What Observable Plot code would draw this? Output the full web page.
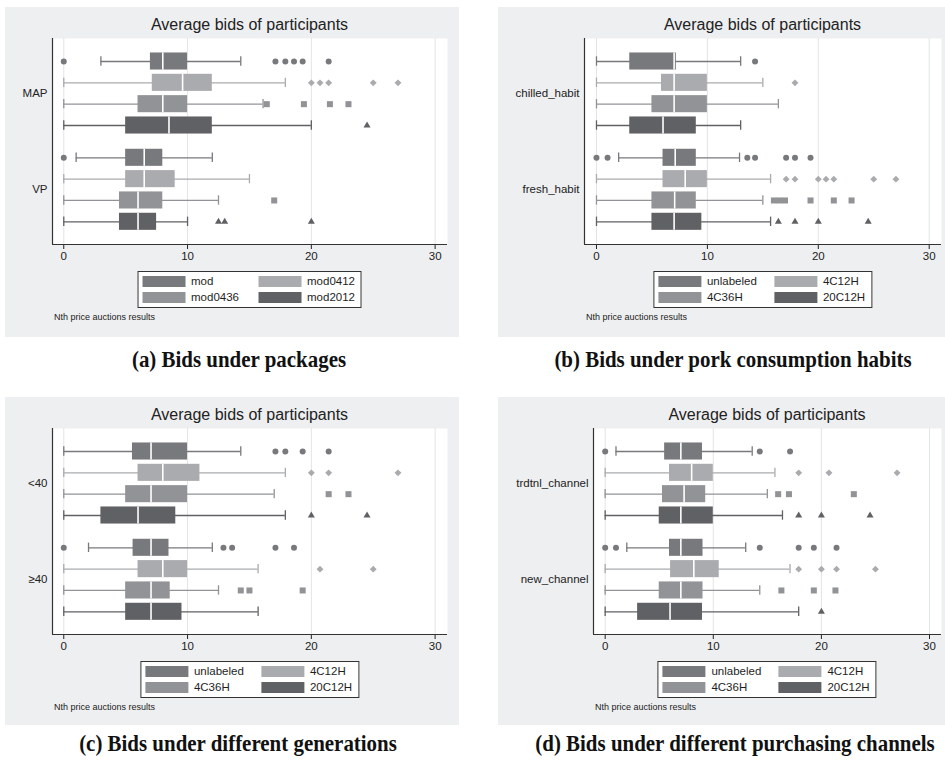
<!DOCTYPE html>
<html>
<head>
<meta charset="utf-8">
<script src="https://cdn.jsdelivr.net/npm/d3@7"></script>
<script src="https://cdn.jsdelivr.net/npm/@observablehq/plot@0.6"></script>
<style>
  body { margin: 0; background: #ffffff; }
  #root { position: relative; width: 945px; height: 766px; overflow: hidden; font-family: "Liberation Sans", Arial, sans-serif; color: #1e1e1e; }
  .panel { position: absolute; background: #eeeff1; }
  .panel svg { position: absolute; left: 0; top: 0; background: transparent; }
  .ptitle { position: absolute; font-size: 16px; white-space: nowrap; transform: translate(-50%, -50%); color: #222; }
  .legend { position: absolute; transform: translateX(-50%); background: #fff; border: 1px solid #333;
            display: grid; grid-template-columns: 43px 61px 43px auto; column-gap: 6px; row-gap: 5px;
            padding: 4px 6px 4px 4px; font-size: 11.5px; line-height: 11px; align-items: center; white-space: nowrap; }
  .legend .sw { width: 43px; height: 11px; }
  .note { position: absolute; font-size: 9px; white-space: nowrap; transform: translateY(-50%); color: #222; }
  .sub { position: absolute; font-family: "Liberation Serif", "Times New Roman", serif; font-weight: bold; font-size: 22.5px;
         white-space: nowrap; transform: translate(-50%, -50%) scale(0.93, 1); color: #111; }
</style>
</head>
<body>
<div id="root"></div>
<script>
// ---------- data ----------
const seriesPackages = ["mod", "mod0412", "mod0436", "mod2012"];
const seriesLabels = ["unlabeled", "4C12H", "4C36H", "20C12H"];
const seriesColors = ["#78797d", "#aaabae", "#929397", "#606164"];
const xTicks = [0, 10, 20, 30];

// (a) packages
const groupsA = ["MAP", "VP"];
const loA  = [3, 0, 0, 0, 1, 0, 0, 0];
const q1A  = [7, 7.15, 6, 5, 5, 5, 4.5, 4.5];
const medA = [8, 9.6, 8, 8.5, 6.5, 6.5, 6, 6];
const q3A  = [10, 12, 10, 12, 8, 9, 8, 7.5];
const hiA  = [14.3, 17.9, 16.1, 20, 12, 15, 12.5, 10];
const outA = [[0, 17.1, 17.9, 18.6, 19.3, 21.4], [20, 20.7, 21.4, 25, 27], [16.4, 19.4, 21.5, 23], [24.5],
              [0], [], [17], [12.5, 13, 20]];

// (b) pork consumption habits
const groupsB = ["chilled_habit", "fresh_habit"];
const loB  = [0, 0, 0, 0, 2, 0, 0, 0];
const q1B  = [3, 5.86, 5, 3, 6, 6, 5, 5];
const medB = [7, 7, 7, 6, 7.1, 8, 7.05, 7];
const q3B  = [7.2, 10, 10, 9, 9, 10, 9, 9.5];
const hiB  = [13, 15, 16.4, 13, 12.9, 15.7, 15, 15.7];
const outB = [[14.3], [17.9], [], [],
              [0, 1, 13.6, 14.3, 17.1, 17.9, 19.3], [17.1, 17.9, 20, 20.7, 21.4, 25, 27], [16, 16.5, 17, 19.3, 21.4, 23], [16.4, 17.9, 20, 24.5]];

// (c) generations
const groupsC = ["<40", "≥40"];
const loC  = [0, 0, 0, 0, 2, 0, 0, 0];
const q1C  = [5.55, 6, 5, 3, 5.6, 6, 5, 5];
const medC = [7.05, 8, 7.05, 6, 7.05, 8, 7.05, 7.05];
const q3C  = [10, 11, 10, 9.05, 8.5, 10, 8.6, 9.55];
const hiC  = [14.3, 17.9, 17, 17.9, 12, 15.7, 12.5, 15.7];
const outC = [[17.1, 17.9, 19.3, 21.4], [20, 21.4, 27], [21.4, 23], [20, 24.5],
              [0, 12.9, 13.6, 17.1, 18.6], [20.7, 25], [14.3, 15, 19.3], []];

// (d) purchasing channels
const groupsD = ["trdtnl_channel", "new_channel"];
const loD  = [1, 0, 0, 0, 2, 0, 0, 0];
const q1D  = [5.5, 5.95, 5.3, 5, 5.95, 6.05, 5, 3];
const medD = [7, 8, 7.3, 7, 7, 8.2, 7, 6];
const q3D  = [9, 10, 9.3, 10, 9.05, 10.55, 9.05, 9];
const hiD  = [13.6, 15.7, 15, 16.4, 13, 17.1, 14.3, 17.9];
const outD = [[0, 14.3, 17.1], [17.9, 20.7, 27], [16, 17, 23], [17.9, 20, 24.5],
              [0, 1, 14.3, 17.9, 19.3, 21.4], [17.9, 20, 21.4, 25], [16.3, 19.3, 21.3], [20]];

const chartTitle = "Average bids of participants";
const noteText = "Nth price auctions results";

// ---------- layout constants ----------
const GROUP_STEP = 4.514;   // rows per group incl. gap
const BOX_HALF = 0.4;
const CAP_HALF = 0.22;
const Y_DOMAIN = [-1.078, 8.578];
const symbols = ["circle", "diamond2", "square", "triangle"];
const symR = [3, 3.1, 3.4, 2.6];

const root = document.getElementById("root");

function panel(cfg) {
  const {left, top, w, h, mL, mR, xDomain, groups, names, lo, q1, med, q3, hi, out, sub, subX, subY} = cfg;
  const mT = 31, mB = 28, svgH = 265;
  const div = document.createElement("div");
  div.className = "panel";
  Object.assign(div.style, {left: left + "px", top: top + "px", width: w + "px", height: h + "px"});
  root.appendChild(div);

  const rows = lo.map((_, i) => {
    const g = Math.floor(i / 4), s = i % 4;
    return {g, s, pos: g * GROUP_STEP + s, lo: lo[i], q1: q1[i], med: med[i], q3: q3[i], hi: hi[i]};
  });
  const outs = rows.flatMap((r, i) => out[i].map(v => ({s: r.s, pos: r.pos, v})));
  const groupCenters = groups.map((_, g) => g * GROUP_STEP + 1.5);

  const marks = [
    Plot.frame({fill: "white", stroke: "none"}),
    Plot.ruleX(xTicks, {stroke: "#e3e4e6", strokeWidth: 1})
  ];
  for (let s = 0; s < 4; s++) {
    const rs = rows.filter(r => r.s === s);
    const os = outs.filter(o => o.s === s);
    const col = seriesColors[s];
    marks.push(
      Plot.ruleY(rs, {y: "pos", x1: "lo", x2: "hi", stroke: col, strokeWidth: 1.3}),
      Plot.ruleX(rs, {x: "lo", y1: d => d.pos - CAP_HALF, y2: d => d.pos + CAP_HALF, stroke: col, strokeWidth: 1.3}),
      Plot.ruleX(rs, {x: "hi", y1: d => d.pos - CAP_HALF, y2: d => d.pos + CAP_HALF, stroke: col, strokeWidth: 1.3}),
      Plot.rect(rs, {x1: "q1", x2: "q3", y1: d => d.pos - BOX_HALF, y2: d => d.pos + BOX_HALF, fill: col}),
      Plot.ruleX(rs, {x: "med", y1: d => d.pos - BOX_HALF, y2: d => d.pos + BOX_HALF, stroke: "white", strokeWidth: 1.6}),
      Plot.dot(os, {x: "v", y: "pos", symbol: () => symbols[s], fill: col, stroke: "none", r: symR[s]})
    );
  }
  marks.push(
    Plot.ruleX([xDomain[0]], {stroke: "#333", strokeWidth: 1.2}),
    Plot.ruleY([Y_DOMAIN[1]], {stroke: "#333", strokeWidth: 1.2})
  );

  const svg = Plot.plot({
    width: w, height: svgH,
    marginLeft: mL, marginRight: mR, marginTop: mT, marginBottom: mB,
    style: {background: "transparent", fontFamily: "Liberation Sans, Arial, sans-serif", fontSize: "11.5px", color: "#222", overflow: "visible"},
    x: {domain: xDomain, ticks: xTicks, tickSize: 5, tickPadding: 2, label: null},
    y: {domain: Y_DOMAIN, reverse: true, ticks: groupCenters,
        tickFormat: d => groups[Math.round((d - 1.5) / GROUP_STEP)], tickSize: 0, tickPadding: 5, label: null},
    symbol: {type: "identity"},
    marks
  });
  div.appendChild(svg);

  const plotCx = mL + (w - mL - mR) / 2;
  const t = document.createElement("div");
  t.className = "ptitle";
  t.textContent = chartTitle;
  Object.assign(t.style, {left: plotCx + "px", top: "18px"});
  div.appendChild(t);

  const lg = document.createElement("div");
  lg.className = "legend";
  Object.assign(lg.style, {left: plotCx + "px", top: "263.5px"});
  names.forEach((n, s) => {
    const sw = document.createElement("div");
    sw.className = "sw";
    sw.style.background = seriesColors[s];
    const tx = document.createElement("div");
    tx.textContent = n;
    lg.appendChild(sw); lg.appendChild(tx);
  });
  div.appendChild(lg);

  const nt = document.createElement("div");
  nt.className = "note";
  nt.textContent = noteText;
  Object.assign(nt.style, {left: (mL + 2) + "px", top: "310px"});
  div.appendChild(nt);

  const sc = document.createElement("div");
  sc.className = "sub";
  sc.textContent = sub;
  Object.assign(sc.style, {left: subX + "px", top: subY + "px"});
  root.appendChild(sc);
}

panel({left: 5, top: 7, w: 454, h: 330, mL: 47, mR: 12, xDomain: [-0.91, 31.0],
       groups: groupsA, names: seriesPackages, lo: loA, q1: q1A, med: medA, q3: q3A, hi: hiA, out: outA,
       sub: "(a) Bids under packages", subX: 239, subY: 360});
panel({left: 498, top: 7, w: 447, h: 330, mL: 86, mR: 4, xDomain: [-1.08, 31.11],
       groups: groupsB, names: seriesLabels, lo: loB, q1: q1B, med: medB, q3: q3B, hi: hiB, out: outB,
       sub: "(b) Bids under pork consumption habits", subX: 733, subY: 360});
panel({left: 5, top: 397, w: 454, h: 328, mL: 47, mR: 12, xDomain: [-0.91, 31.0],
       groups: groupsC, names: seriesLabels, lo: loC, q1: q1C, med: medC, q3: q3C, hi: hiC, out: outC,
       sub: "(c) Bids under different generations", subX: 238, subY: 744});
panel({left: 498, top: 397, w: 447, h: 328, mL: 95, mR: 4, xDomain: [-1.08, 31.11],
       groups: groupsD, names: seriesLabels, lo: loD, q1: q1D, med: medD, q3: q3D, hi: hiD, out: outD,
       sub: "(d) Bids under different purchasing channels", subX: 735, subY: 744});
</script>
</body>
</html>
